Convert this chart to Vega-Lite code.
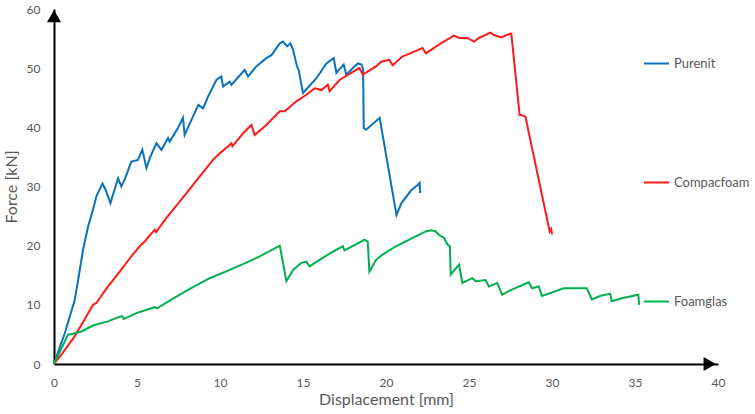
{
  "$schema": "https://vega.github.io/schema/vega-lite/v6.json",
  "width": 664,
  "height": 355,
  "autosize": {"type": "none"},
  "padding": {"left": 54, "top": 9, "right": 37, "bottom": 50},
  "background": "white",
  "config": {
    "view": {"stroke": null},
    "font": "Lato",
    "axis": {
      "grid": false,
      "ticks": false,
      "domainColor": "#000000",
      "domainWidth": 2,
      "labelColor": "#595959",
      "labelFontSize": 12,
      "labelFont": "Lato",
      "labelFlush": false,
      "labelOverlap": false,
      "titleFont": "Lato",
      "titleFontSize": 16,
      "titleFontWeight": "normal",
      "titleColor": "#595959"
    }
  },
  "layer": [
    {
      "data": {
        "values": [
          {"s": "Purenit", "x": 0, "y": 0},
          {"s": "Purenit", "x": 0.3, "y": 2.5},
          {"s": "Purenit", "x": 0.65, "y": 5.2},
          {"s": "Purenit", "x": 1.0, "y": 8.5},
          {"s": "Purenit", "x": 1.25, "y": 10.8},
          {"s": "Purenit", "x": 1.5, "y": 15},
          {"s": "Purenit", "x": 1.75, "y": 19.3},
          {"s": "Purenit", "x": 2.05, "y": 23.2},
          {"s": "Purenit", "x": 2.35, "y": 26.1},
          {"s": "Purenit", "x": 2.55, "y": 28.3},
          {"s": "Purenit", "x": 2.92, "y": 30.5},
          {"s": "Purenit", "x": 3.1, "y": 29.5},
          {"s": "Purenit", "x": 3.4, "y": 27.2},
          {"s": "Purenit", "x": 3.86, "y": 31.4},
          {"s": "Purenit", "x": 4.06, "y": 30},
          {"s": "Purenit", "x": 4.3, "y": 31.5},
          {"s": "Purenit", "x": 4.66, "y": 34.2},
          {"s": "Purenit", "x": 5.06, "y": 34.5},
          {"s": "Purenit", "x": 5.32, "y": 36.2},
          {"s": "Purenit", "x": 5.57, "y": 33.1},
          {"s": "Purenit", "x": 5.8, "y": 35},
          {"s": "Purenit", "x": 6.17, "y": 37.3},
          {"s": "Purenit", "x": 6.47, "y": 36.2},
          {"s": "Purenit", "x": 6.87, "y": 38.2},
          {"s": "Purenit", "x": 6.97, "y": 37.6},
          {"s": "Purenit", "x": 7.47, "y": 39.9},
          {"s": "Purenit", "x": 7.77, "y": 41.6},
          {"s": "Purenit", "x": 7.87, "y": 38.7},
          {"s": "Purenit", "x": 8.37, "y": 41.8},
          {"s": "Purenit", "x": 8.7, "y": 43.8},
          {"s": "Purenit", "x": 8.98, "y": 43.2},
          {"s": "Purenit", "x": 9.28, "y": 45.2},
          {"s": "Purenit", "x": 9.78, "y": 48.0},
          {"s": "Purenit", "x": 10.08, "y": 48.6},
          {"s": "Purenit", "x": 10.18, "y": 46.9},
          {"s": "Purenit", "x": 10.58, "y": 47.7},
          {"s": "Purenit", "x": 10.69, "y": 47.2},
          {"s": "Purenit", "x": 11.39, "y": 49.4},
          {"s": "Purenit", "x": 11.49, "y": 49.7},
          {"s": "Purenit", "x": 11.69, "y": 48.6},
          {"s": "Purenit", "x": 12.19, "y": 50.3},
          {"s": "Purenit", "x": 12.79, "y": 51.7},
          {"s": "Purenit", "x": 13.1, "y": 52.2},
          {"s": "Purenit", "x": 13.6, "y": 54.2},
          {"s": "Purenit", "x": 13.8, "y": 54.5},
          {"s": "Purenit", "x": 14.04, "y": 53.7},
          {"s": "Purenit", "x": 14.24, "y": 54.2},
          {"s": "Purenit", "x": 14.4, "y": 53.1},
          {"s": "Purenit", "x": 14.64, "y": 50.3},
          {"s": "Purenit", "x": 14.74, "y": 49.7},
          {"s": "Purenit", "x": 15.0, "y": 45.8},
          {"s": "Purenit", "x": 15.81, "y": 48.3},
          {"s": "Purenit", "x": 16.41, "y": 50.8},
          {"s": "Purenit", "x": 16.85, "y": 51.7},
          {"s": "Purenit", "x": 17.01, "y": 49.2},
          {"s": "Purenit", "x": 17.45, "y": 50.6},
          {"s": "Purenit", "x": 17.61, "y": 48.9},
          {"s": "Purenit", "x": 18.1, "y": 50.3},
          {"s": "Purenit", "x": 18.31, "y": 50.8},
          {"s": "Purenit", "x": 18.52, "y": 50.6},
          {"s": "Purenit", "x": 18.62, "y": 49.8},
          {"s": "Purenit", "x": 18.66, "y": 39.9},
          {"s": "Purenit", "x": 18.8, "y": 39.6},
          {"s": "Purenit", "x": 19.62, "y": 41.6},
          {"s": "Purenit", "x": 20.63, "y": 25.2},
          {"s": "Purenit", "x": 20.93, "y": 27.2},
          {"s": "Purenit", "x": 21.53, "y": 29.4},
          {"s": "Purenit", "x": 21.93, "y": 30.3},
          {"s": "Purenit", "x": 22.03, "y": 30.6},
          {"s": "Purenit", "x": 22.06, "y": 28.9},

          {"s": "Compacfoam", "x": 0, "y": 0},
          {"s": "Compacfoam", "x": 0.5, "y": 1.8},
          {"s": "Compacfoam", "x": 1.2, "y": 4.5},
          {"s": "Compacfoam", "x": 1.8, "y": 7.3},
          {"s": "Compacfoam", "x": 2.35, "y": 10.0},
          {"s": "Compacfoam", "x": 2.55, "y": 10.3},
          {"s": "Compacfoam", "x": 3.2, "y": 12.9},
          {"s": "Compacfoam", "x": 3.96, "y": 15.6},
          {"s": "Compacfoam", "x": 4.6, "y": 18},
          {"s": "Compacfoam", "x": 5.16, "y": 19.9},
          {"s": "Compacfoam", "x": 5.46, "y": 20.7},
          {"s": "Compacfoam", "x": 6.07, "y": 22.7},
          {"s": "Compacfoam", "x": 6.15, "y": 22.3},
          {"s": "Compacfoam", "x": 6.77, "y": 24.7},
          {"s": "Compacfoam", "x": 7.67, "y": 27.8},
          {"s": "Compacfoam", "x": 8.78, "y": 31.7},
          {"s": "Compacfoam", "x": 9.58, "y": 34.5},
          {"s": "Compacfoam", "x": 9.98, "y": 35.6},
          {"s": "Compacfoam", "x": 10.58, "y": 37.0},
          {"s": "Compacfoam", "x": 10.69, "y": 37.3},
          {"s": "Compacfoam", "x": 10.75, "y": 36.8},
          {"s": "Compacfoam", "x": 11.39, "y": 39.0},
          {"s": "Compacfoam", "x": 11.89, "y": 40.4},
          {"s": "Compacfoam", "x": 12.09, "y": 38.7},
          {"s": "Compacfoam", "x": 12.79, "y": 40.4},
          {"s": "Compacfoam", "x": 13.6, "y": 42.7},
          {"s": "Compacfoam", "x": 13.9, "y": 42.7},
          {"s": "Compacfoam", "x": 14.6, "y": 44.4},
          {"s": "Compacfoam", "x": 15.2, "y": 45.5},
          {"s": "Compacfoam", "x": 15.7, "y": 46.6},
          {"s": "Compacfoam", "x": 16.1, "y": 46.3},
          {"s": "Compacfoam", "x": 16.5, "y": 47.2},
          {"s": "Compacfoam", "x": 16.6, "y": 46.1},
          {"s": "Compacfoam", "x": 17.2, "y": 48.0},
          {"s": "Compacfoam", "x": 18.2, "y": 49.7},
          {"s": "Compacfoam", "x": 18.4, "y": 50.0},
          {"s": "Compacfoam", "x": 18.6, "y": 48.9},
          {"s": "Compacfoam", "x": 19.4, "y": 50.3},
          {"s": "Compacfoam", "x": 19.7, "y": 51.1},
          {"s": "Compacfoam", "x": 20.2, "y": 51.4},
          {"s": "Compacfoam", "x": 20.4, "y": 50.5},
          {"s": "Compacfoam", "x": 21.0, "y": 52.0},
          {"s": "Compacfoam", "x": 21.2, "y": 52.2},
          {"s": "Compacfoam", "x": 22.2, "y": 53.4},
          {"s": "Compacfoam", "x": 22.4, "y": 52.5},
          {"s": "Compacfoam", "x": 23.3, "y": 54.2},
          {"s": "Compacfoam", "x": 24.1, "y": 55.5},
          {"s": "Compacfoam", "x": 24.4, "y": 55.1},
          {"s": "Compacfoam", "x": 24.9, "y": 55.1},
          {"s": "Compacfoam", "x": 25.3, "y": 54.5},
          {"s": "Compacfoam", "x": 25.6, "y": 55.1},
          {"s": "Compacfoam", "x": 26.3, "y": 56.0},
          {"s": "Compacfoam", "x": 26.5, "y": 55.6},
          {"s": "Compacfoam", "x": 26.95, "y": 55.2},
          {"s": "Compacfoam", "x": 27.45, "y": 55.8},
          {"s": "Compacfoam", "x": 27.55, "y": 55.8},
          {"s": "Compacfoam", "x": 28.05, "y": 42.1},
          {"s": "Compacfoam", "x": 28.15, "y": 42.1},
          {"s": "Compacfoam", "x": 28.4, "y": 41.8},
          {"s": "Compacfoam", "x": 29.86, "y": 22.4},
          {"s": "Compacfoam", "x": 29.95, "y": 22.8},
          {"s": "Compacfoam", "x": 30.0, "y": 21.9},

          {"s": "Foamglas", "x": 0, "y": 0},
          {"s": "Foamglas", "x": 0.84, "y": 4.95},
          {"s": "Foamglas", "x": 1.14, "y": 5.1},
          {"s": "Foamglas", "x": 1.65, "y": 5.5},
          {"s": "Foamglas", "x": 2.35, "y": 6.5},
          {"s": "Foamglas", "x": 3.25, "y": 7.2},
          {"s": "Foamglas", "x": 3.96, "y": 8.0},
          {"s": "Foamglas", "x": 4.1, "y": 8.1},
          {"s": "Foamglas", "x": 4.2, "y": 7.6},
          {"s": "Foamglas", "x": 4.96, "y": 8.6},
          {"s": "Foamglas", "x": 6.07, "y": 9.6},
          {"s": "Foamglas", "x": 6.2, "y": 9.4},
          {"s": "Foamglas", "x": 7.37, "y": 11.4},
          {"s": "Foamglas", "x": 8.37, "y": 13.0},
          {"s": "Foamglas", "x": 9.38, "y": 14.5},
          {"s": "Foamglas", "x": 10.58, "y": 15.9},
          {"s": "Foamglas", "x": 11.79, "y": 17.4},
          {"s": "Foamglas", "x": 12.39, "y": 18.2},
          {"s": "Foamglas", "x": 13.6, "y": 20.0},
          {"s": "Foamglas", "x": 14.0, "y": 14.0},
          {"s": "Foamglas", "x": 14.4, "y": 15.9},
          {"s": "Foamglas", "x": 14.9, "y": 17.1},
          {"s": "Foamglas", "x": 15.2, "y": 17.3},
          {"s": "Foamglas", "x": 15.4, "y": 16.5},
          {"s": "Foamglas", "x": 16.0, "y": 17.6},
          {"s": "Foamglas", "x": 16.8, "y": 19.0},
          {"s": "Foamglas", "x": 17.4, "y": 19.9},
          {"s": "Foamglas", "x": 17.5, "y": 19.2},
          {"s": "Foamglas", "x": 18.3, "y": 20.4},
          {"s": "Foamglas", "x": 18.7, "y": 21.0},
          {"s": "Foamglas", "x": 18.9, "y": 20.7},
          {"s": "Foamglas", "x": 19.0, "y": 15.6},
          {"s": "Foamglas", "x": 19.4, "y": 17.6},
          {"s": "Foamglas", "x": 19.8, "y": 18.5},
          {"s": "Foamglas", "x": 20.6, "y": 19.9},
          {"s": "Foamglas", "x": 21.6, "y": 21.3},
          {"s": "Foamglas", "x": 22.4, "y": 22.4},
          {"s": "Foamglas", "x": 22.7, "y": 22.6},
          {"s": "Foamglas", "x": 23.0, "y": 22.4},
          {"s": "Foamglas", "x": 23.2, "y": 21.8},
          {"s": "Foamglas", "x": 23.5, "y": 21.3},
          {"s": "Foamglas", "x": 23.7, "y": 20.2},
          {"s": "Foamglas", "x": 23.85, "y": 19.9},
          {"s": "Foamglas", "x": 23.9, "y": 15.1},
          {"s": "Foamglas", "x": 24.4, "y": 16.8},
          {"s": "Foamglas", "x": 24.6, "y": 13.7},
          {"s": "Foamglas", "x": 25.2, "y": 14.5},
          {"s": "Foamglas", "x": 25.4, "y": 14.0},
          {"s": "Foamglas", "x": 26.0, "y": 14.2},
          {"s": "Foamglas", "x": 26.2, "y": 13.1},
          {"s": "Foamglas", "x": 26.7, "y": 13.7},
          {"s": "Foamglas", "x": 27.0, "y": 11.7},
          {"s": "Foamglas", "x": 27.5, "y": 12.5},
          {"s": "Foamglas", "x": 28.6, "y": 13.8},
          {"s": "Foamglas", "x": 28.8, "y": 12.8},
          {"s": "Foamglas", "x": 29.2, "y": 13.1},
          {"s": "Foamglas", "x": 29.4, "y": 11.5},
          {"s": "Foamglas", "x": 30.7, "y": 12.8},
          {"s": "Foamglas", "x": 32.1, "y": 12.8},
          {"s": "Foamglas", "x": 32.4, "y": 10.9},
          {"s": "Foamglas", "x": 32.9, "y": 11.5},
          {"s": "Foamglas", "x": 33.5, "y": 11.9},
          {"s": "Foamglas", "x": 33.6, "y": 10.6},
          {"s": "Foamglas", "x": 34.2, "y": 11.1},
          {"s": "Foamglas", "x": 35.2, "y": 11.7},
          {"s": "Foamglas", "x": 35.25, "y": 10.0}
        ]
      },
      "mark": {"type": "line", "strokeWidth": 2},
      "encoding": {
        "x": {
          "field": "x",
          "type": "quantitative",
          "scale": {"domain": [0, 40], "nice": false},
          "axis": {
            "title": "Displacement [mm]",
            "values": [0, 5, 10, 15, 20, 25, 30, 35, 40],
            "labelPadding": 13,
            "titlePadding": 3
          }
        },
        "y": {
          "field": "y",
          "type": "quantitative",
          "scale": {"domain": [0, 60], "nice": false},
          "axis": {
            "title": "Force [kN]",
            "values": [0, 10, 20, 30, 40, 50, 60],
            "labelPadding": 14,
            "titlePadding": 7
          }
        },
        "color": {
          "field": "s",
          "type": "nominal",
          "scale": {
            "domain": ["Purenit", "Compacfoam", "Foamglas"],
            "range": ["#0a72bd", "#ff1a1a", "#00b050"]
          },
          "legend": {
            "title": null,
            "orient": "none",
            "legendX": 589,
            "legendY": 41,
            "padding": 0,
            "symbolType": "stroke",
            "symbolSize": 625,
            "symbolStrokeWidth": 2,
            "labelFont": "Lato",
            "labelFontSize": 13,
            "labelColor": "#595959",
            "labelOffset": 4,
            "rowPadding": 98
          }
        }
      }
    },
    {
      "data": {"values": [{}]},
      "mark": {"type": "point", "shape": "triangle-up", "filled": true, "color": "#000000", "opacity": 1, "size": 200},
      "encoding": {"x": {"datum": 0}, "y": {"datum": 58.8}}
    },
    {
      "data": {"values": [{}]},
      "mark": {"type": "point", "shape": "triangle-right", "filled": true, "color": "#000000", "opacity": 1, "size": 200},
      "encoding": {"x": {"datum": 39.5}, "y": {"datum": 0}}
    }
  ]
}
